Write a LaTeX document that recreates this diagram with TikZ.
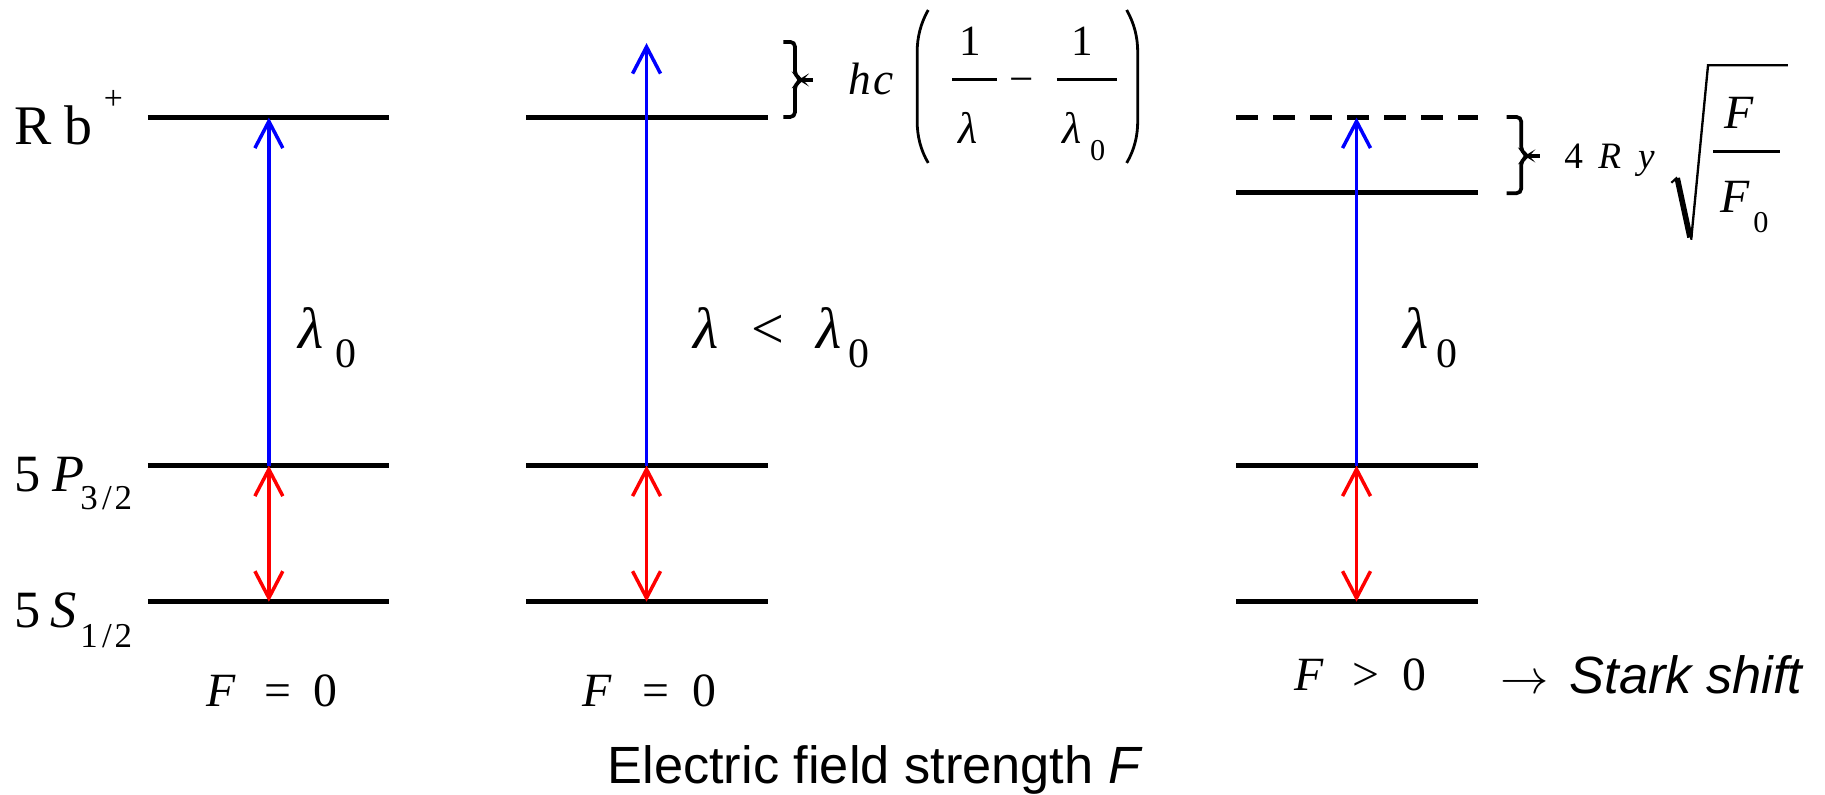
\documentclass[tikz,border=0pt]{standalone}
\usepackage{fontspec}
\setmainfont{Liberation Serif}
\newfontfamily\sansf{Liberation Sans}
\usetikzlibrary{arrows.meta}
\newcommand\myfs[1]{\fontsize{#1pt}{#1pt}\selectfont}
\begin{document}
\begin{tikzpicture}[x=0.5pt,y=-0.5pt,
  lvl/.style={line width=2.25pt},
  dashlvl/.style={line width=2.25pt, dash pattern=on 9.5pt off 6.4pt},
  barb/.tip={Straight Barb[length=11.5pt,width=12pt]},
  exc/.style={blue, line width=1.5pt, -barb},
  dbl/.style={red, line width=1.5pt, barb-barb},
  brk/.style={line width=1.6pt, rounded corners=2pt},
  thinline/.style={line width=1.2pt},
  lbl/.style={inner sep=0pt, outer sep=0pt, anchor=base}]
\useasboundingbox (0,0) rectangle (1568,683);

% ---- level coordinates
\coordinate (1Tl) at (127,101);   \coordinate (1Tr) at (334,101);
\coordinate (1Pl) at (127,400);   \coordinate (1Pr) at (334,400);
\coordinate (1Sl) at (127,517);   \coordinate (1Sr) at (334,517);
\coordinate (2Tl) at (452,101);   \coordinate (2Tr) at (660,101);
\coordinate (2Pl) at (452,400);   \coordinate (2Pr) at (660,400);
\coordinate (2Sl) at (452,517);   \coordinate (2Sr) at (660,517);
\coordinate (3Dl) at (1062,101);  \coordinate (3Dr) at (1270,101);
\coordinate (3Tl) at (1062,165.5);\coordinate (3Tr) at (1270,165.5);
\coordinate (3Pl) at (1062,400);  \coordinate (3Pr) at (1270,400);
\coordinate (3Sl) at (1062,517);  \coordinate (3Sr) at (1270,517);
% arrow end points
\coordinate (1T) at (231,101);  \coordinate (1P) at (231,400);  \coordinate (1S) at (231,517);
\coordinate (2X) at (555.5,37); \coordinate (2P) at (555.5,400);\coordinate (2S) at (555.5,517);
\coordinate (3T) at (1165.5,101);\coordinate (3P) at (1165.5,400);\coordinate (3S) at (1165.5,517);

% ---- levels
\draw[lvl] (1Tl) -- (1Tr);
\draw[lvl] (1Pl) -- (1Pr);
\draw[lvl] (1Sl) -- (1Sr);
\draw[lvl] (2Tl) -- (2Tr);
\draw[lvl] (2Pl) -- (2Pr);
\draw[lvl] (2Sl) -- (2Sr);
\draw[dashlvl] (3Dl) -- (3Dr);
\draw[lvl] (3Tl) -- (3Tr);
\draw[lvl] (3Pl) -- (3Pr);
\draw[lvl] (3Sl) -- (3Sr);

% ---- transitions
\draw[exc] (1P) -- (1T);
\draw[exc] (2P) -- (2X);
\draw[exc] (3P) -- (3T);
\draw[dbl] (1S) -- (1P);
\draw[dbl] (2S) -- (2P);
\draw[dbl] (3S) -- (3P);

% ---- brackets
\draw[brk] (673,36) -- (683,36) -- (683,65) -- (689,68.7) -- (683,72.4) -- (683,100.5) -- (673,100.5);
\draw[line width=1.6pt] (686,68.7) -- (698.5,68.7);
\draw[brk] (1294.5,100.5) -- (1307,100.5) -- (1307,130.3) -- (1313,134) -- (1307,137.7) -- (1307,166) -- (1294.5,166);
\draw[line width=1.6pt] (1310,134) -- (1323,134);

% ---- left labels
\node[lbl] (rbR) at (28.5,124) {\myfs{24}R};
\node[lbl] (rbb) at (67.5,124) {\myfs{24}b};
\node[lbl] (rbp) at (97.5,94.5) {\myfs{14.5}+};
\node[lbl] (p5) at (23.75,422.5) {\myfs{22.5}5};
\node[lbl] (pP) at (58.5,422.5) {\myfs{22.5}\itshape P};
\node[lbl] (p3) at (76.5,438) {\myfs{15}3};
\node[lbl] (psl) at (92,438) {\myfs{15}/};
\node[lbl] (p2) at (106,438) {\myfs{15}2};
\node[lbl] (s5) at (23.75,539.5) {\myfs{22.5}5};
\node[lbl] (sS) at (55,539.5) {\myfs{22.5}\itshape S};
\node[lbl] (s1) at (76.5,556) {\myfs{15}1};
\node[lbl] (ssl) at (92,556) {\myfs{15}/};
\node[lbl] (s2) at (106,556) {\myfs{15}2};

% ---- lambda labels
\node[lbl] (l1) at (267.5,299) {\myfs{25}\itshape λ};
\node[lbl] (l1z) at (297,316) {\myfs{18}0};
\node[lbl] (l2a) at (606.5,299) {\myfs{25}\itshape λ};
\node[lbl] (l2lt) at (660,299) {\myfs{25}<};
\node[lbl] (l2b) at (712,299) {\myfs{25}\itshape λ};
\node[lbl] (l2z) at (738,316) {\myfs{18}0};
\node[lbl] (l3) at (1216.5,299) {\myfs{25}\itshape λ};
\node[lbl] (l3z) at (1243.5,316) {\myfs{18}0};

% ---- field labels
\node[lbl] (f1F) at (190,607) {\myfs{20.5}\itshape F};
\node[lbl] (f1e) at (238.5,607) {\myfs{20.5}=};
\node[lbl] (f10) at (279.5,607) {\myfs{20.5}0};
\node[lbl] (f2F) at (513,607) {\myfs{20.5}\itshape F};
\node[lbl] (f2e) at (563.5,607) {\myfs{20.5}=};
\node[lbl] (f20) at (605.5,607) {\myfs{20.5}0};
\node[lbl] (f3F) at (1125,593.5) {\myfs{20.5}\itshape F};
\node[lbl] (f3g) at (1174,593.5) {\myfs{20.5}>};
\node[lbl] (f30) at (1215,593.5) {\myfs{20.5}0};
\node[lbl] (arr) at (1309.5,596) {\myfs{21}\(\rightarrow\)};
\node[lbl, anchor=base west] (stark) at (1348.5,596) {\sansf\myfs{22.5}\itshape Stark shift};
\node[lbl, anchor=base west] (efs) at (522,673) {\sansf\myfs{22.5}Electric field strength \textit{F}};

% ---- hc(1/lambda - 1/lambda0)
\node[lbl] (hh) at (739,81.6) {\myfs{19.5}\itshape h};
\node[lbl] (hcc) at (759.5,81.6) {\myfs{19.5}\itshape c};
\draw[thinline] (797.5,8.6) .. controls (791,20) and (788,32) .. (788,45) -- (788,104) .. controls (788,117) and (791,129) .. (797.5,140);
\draw[thinline] (968,8.6) .. controls (974.5,20) and (977.5,32) .. (977.5,45) -- (977.5,104) .. controls (977.5,117) and (974.5,129) .. (968,140);
\node[lbl] (n1) at (833.5,47.3) {\myfs{18.5}1};
\draw[thinline] (818,68.2) -- (856.5,68.2);
\node[lbl] (d1) at (832,123) {\myfs{19}\itshape λ};
\node[lbl] (mn) at (878,80) {\myfs{18.5}−};
\node[lbl] (n2) at (930,47.3) {\myfs{18.5}1};
\draw[thinline] (908,68.2) -- (960,68.2);
\node[lbl] (d2) at (921.5,123) {\myfs{19}\itshape λ};
\node[lbl] (d2z) at (943,137.5) {\myfs{13}0};

% ---- 4 Ry sqrt(F/F0)
\node[lbl] (q4) at (1352,144.6) {\myfs{16}4};
\node[lbl] (qR) at (1383,144.6) {\myfs{16}\itshape R};
\node[lbl] (qy) at (1414.5,144.6) {\myfs{16}\itshape y};
\draw[line width=0.9pt] (1436,157) -- (1441,152.5);
\draw[line width=2.4pt] (1441,153) -- (1452,204);
\draw[line width=1pt] (1453,206) -- (1467.5,56) -- (1536,56);
\node[lbl] (qF) at (1494.5,110) {\myfs{20.5}\itshape F};
\draw[thinline] (1472,130.3) -- (1529,130.3);
\node[lbl] (qF0) at (1491,183) {\myfs{20.5}\itshape F};
\node[lbl] (qz) at (1513,200) {\myfs{13}0};
\end{tikzpicture}
\end{document}
